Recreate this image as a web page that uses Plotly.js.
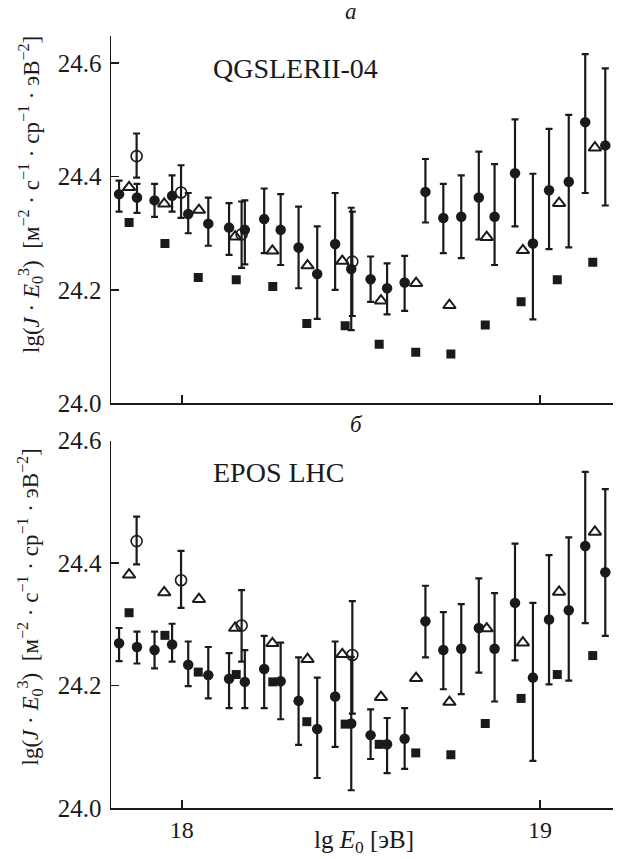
<!DOCTYPE html>
<html>
<head>
<meta charset="utf-8">
<script src="https://cdn.plot.ly/plotly-3.0.1.min.js"></script>
<style>html,body{margin:0;padding:0;background:#fff;}#chart{width:618px;height:859px;}</style>
</head>
<body>
<div id="chart"></div>
<script>
// lg E0 of model-based points (filled circles), shared by both panels
const xModel = [17.825, 17.875, 17.924, 17.973, 18.018, 18.074, 18.132, 18.176, 18.230, 18.276, 18.326, 18.378, 18.428, 18.473, 18.527, 18.573, 18.622, 18.680, 18.730, 18.780, 18.829, 18.873, 18.930, 18.980, 19.025, 19.080, 19.126, 19.182];
// Panel a: QGSJETII-04
const yQGS = [24.369, 24.363, 24.358, 24.366, 24.334, 24.317, 24.310, 24.306, 24.325, 24.306, 24.275, 24.228, 24.281, 24.237, 24.219, 24.203, 24.213, 24.373, 24.327, 24.329, 24.363, 24.329, 24.406, 24.282, 24.376, 24.391, 24.496, 24.455];
const yQGSHigh = [24.393, 24.387, 24.387, 24.402, 24.371, 24.363, 24.353, 24.358, 24.379, 24.369, 24.347, 24.312, 24.371, 24.345, 24.259, 24.247, 24.260, 24.431, 24.387, 24.402, 24.444, 24.422, 24.501, 24.405, 24.484, 24.509, 24.616, 24.591];
const yQGSLow = [24.338, 24.336, 24.329, 24.338, 24.300, 24.278, 24.262, 24.245, 24.265, 24.244, 24.203, 24.149, 24.200, 24.129, 24.179, 24.157, 24.163, 24.319, 24.265, 24.256, 24.289, 24.244, 24.312, 24.148, 24.272, 24.275, 24.371, 24.349];
// Panel b: EPOS LHC
const yEPOS = [24.269, 24.263, 24.258, 24.267, 24.234, 24.217, 24.211, 24.206, 24.227, 24.207, 24.175, 24.129, 24.182, 24.138, 24.119, 24.104, 24.113, 24.305, 24.258, 24.260, 24.294, 24.260, 24.335, 24.213, 24.308, 24.323, 24.428, 24.385];
const yEPOSHigh = [24.294, 24.288, 24.288, 24.301, 24.272, 24.263, 24.253, 24.258, 24.281, 24.270, 24.246, 24.213, 24.272, 24.247, 24.161, 24.147, 24.163, 24.363, 24.320, 24.333, 24.375, 24.351, 24.432, 24.335, 24.413, 24.442, 24.549, 24.521];
const yEPOSLow = [24.240, 24.236, 24.228, 24.239, 24.199, 24.179, 24.163, 24.163, 24.163, 24.145, 24.103, 24.049, 24.100, 24.029, 24.080, 24.057, 24.064, 24.246, 24.194, 24.186, 24.221, 24.174, 24.241, 24.077, 24.202, 24.208, 24.302, 24.281];
// Open circles
const xOpen = [17.874, 17.998, 18.167, 18.476];
const yOpen = [24.436, 24.372, 24.298, 24.250];
const yOpenHigh = [24.476, 24.420, 24.356, 24.338];
const yOpenLow = [24.398, 24.327, 24.239, 24.154];
// Open triangles
const xTri = [17.853, 17.951, 18.048, 18.149, 18.253, 18.351, 18.448, 18.556, 18.654, 18.747, 18.851, 18.952, 19.053, 19.153];
const yTri = [24.381, 24.352, 24.341, 24.294, 24.269, 24.243, 24.251, 24.181, 24.212, 24.173, 24.293, 24.270, 24.353, 24.451];
// Filled squares
const xSq = [17.853, 17.953, 18.046, 18.152, 18.254, 18.349, 18.456, 18.551, 18.653, 18.751, 18.847, 18.947, 19.048, 19.147];
const ySq = [24.319, 24.282, 24.222, 24.218, 24.206, 24.141, 24.137, 24.104, 24.090, 24.087, 24.138, 24.179, 24.218, 24.249];

const yTicks = [24.0, 24.2, 24.4, 24.6];
const yTickText = ['24.0', '24.2', '24.4', '24.6'];
const xTicks = [18, 19];
const xTickText = ['18', '19'];

const INK = '#1a1a1a';
function errs(y, hi, lo) {
  return {type: 'data', symmetric: false,
    array: y.map((v, i) => hi[i] - v), arrayminus: y.map((v, i) => v - lo[i]),
    color: INK, thickness: 2.2, width: 3.5};
}
function panel(xa, ya, yM, yH, yL) {
  return [
    {x: xSq, y: ySq, xaxis: xa, yaxis: ya, type: 'scatter', mode: 'markers',
     marker: {symbol: 'square', size: 9, color: INK}},
    {x: xTri, y: yTri, xaxis: xa, yaxis: ya, type: 'scatter', mode: 'markers',
     marker: {symbol: 'triangle-up-open', size: 11, color: INK, line: {width: 2, color: INK}}},
    {x: xModel, y: yM, xaxis: xa, yaxis: ya, type: 'scatter', mode: 'markers',
     error_y: errs(yM, yH, yL),
     marker: {symbol: 'circle', size: 10.5, color: INK}},
    {x: xOpen, y: yOpen, xaxis: xa, yaxis: ya, type: 'scatter', mode: 'markers',
     error_y: errs(yOpen, yOpenHigh, yOpenLow),
     marker: {symbol: 'circle-open', size: 11, color: INK, line: {width: 1.6, color: INK}}}
  ];
}
const data = [].concat(panel('x', 'y', yQGS, yQGSHigh, yQGSLow), panel('x2', 'y2', yEPOS, yEPOSHigh, yEPOSLow));

const serif = 'Liberation Serif';
const axBase = {showline: true, linecolor: INK, linewidth: 1.5, ticks: 'inside', ticklen: 8,
  tickwidth: 1.5, tickcolor: INK, showgrid: false, zeroline: false, mirror: false,
  tickfont: {family: serif, size: 25, color: INK}};
const xRange = [17.8025, 19.2035];

const yTitle = 'lg(<i>J</i> · <i>E</i><sub>0</sub><sup>3</sup>)  [м<sup>−2</sup> · с<sup>−1</sup> · ср<sup>−1</sup> · эВ<sup>−2</sup>]';

function note(text, x, y, size, extra) {
  return Object.assign({text: text, xref: 'paper', yref: 'paper', x: x, y: y, xanchor: 'center', yanchor: 'middle',
    showarrow: false, font: {family: serif, size: size, color: INK}}, extra || {});
}

const layout = {
  width: 618, height: 859, showlegend: false,
  paper_bgcolor: '#fff', plot_bgcolor: '#fff',
  font: {family: serif, color: INK},
  margin: {l: 111, r: 5, t: 36, b: 51},
  xaxis: Object.assign({}, axBase, {anchor: 'y', domain: [0, 1], range: xRange, tickvals: xTicks, ticktext: xTickText, showticklabels: false}),
  xaxis2: Object.assign({}, axBase, {anchor: 'y2', domain: [0, 1], range: xRange, tickvals: xTicks, ticktext: xTickText, tickfont: {family: serif, size: 24, color: INK}}),
  yaxis: Object.assign({}, axBase, {anchor: 'x', domain: [0.5242, 1], range: [24.0, 24.648], tickvals: yTicks, ticktext: yTickText, ticklabelstandoff: 3}),
  yaxis2: Object.assign({}, axBase, {anchor: 'x2', domain: [0, 0.4758], range: [24.0, 24.6], tickvals: yTicks, ticktext: yTickText, ticklabelstandoff: 3}),
  annotations: [
    note('QGSLERII-04', 0.3685, 0.9585, 28),
    note('EPOS LHC', 0.3327, 0.4352, 28),
    note('<i>а</i>', 0.479, 1.0311, 23),
    note('<i>б</i>', 0.490, 0.4974, 23),
    note(yTitle, -0.1614, 0.7953, 23, {textangle: -90}),
    note(yTitle, -0.1614, 0.2610, 23, {textangle: -90}),
    note('lg <i>E</i><sub>0</sub> [эВ]', 0.504, -0.0440, 25)
  ]
};
Plotly.newPlot('chart', data, layout, {displayModeBar: false, staticPlot: true});
</script>
</body>
</html>
